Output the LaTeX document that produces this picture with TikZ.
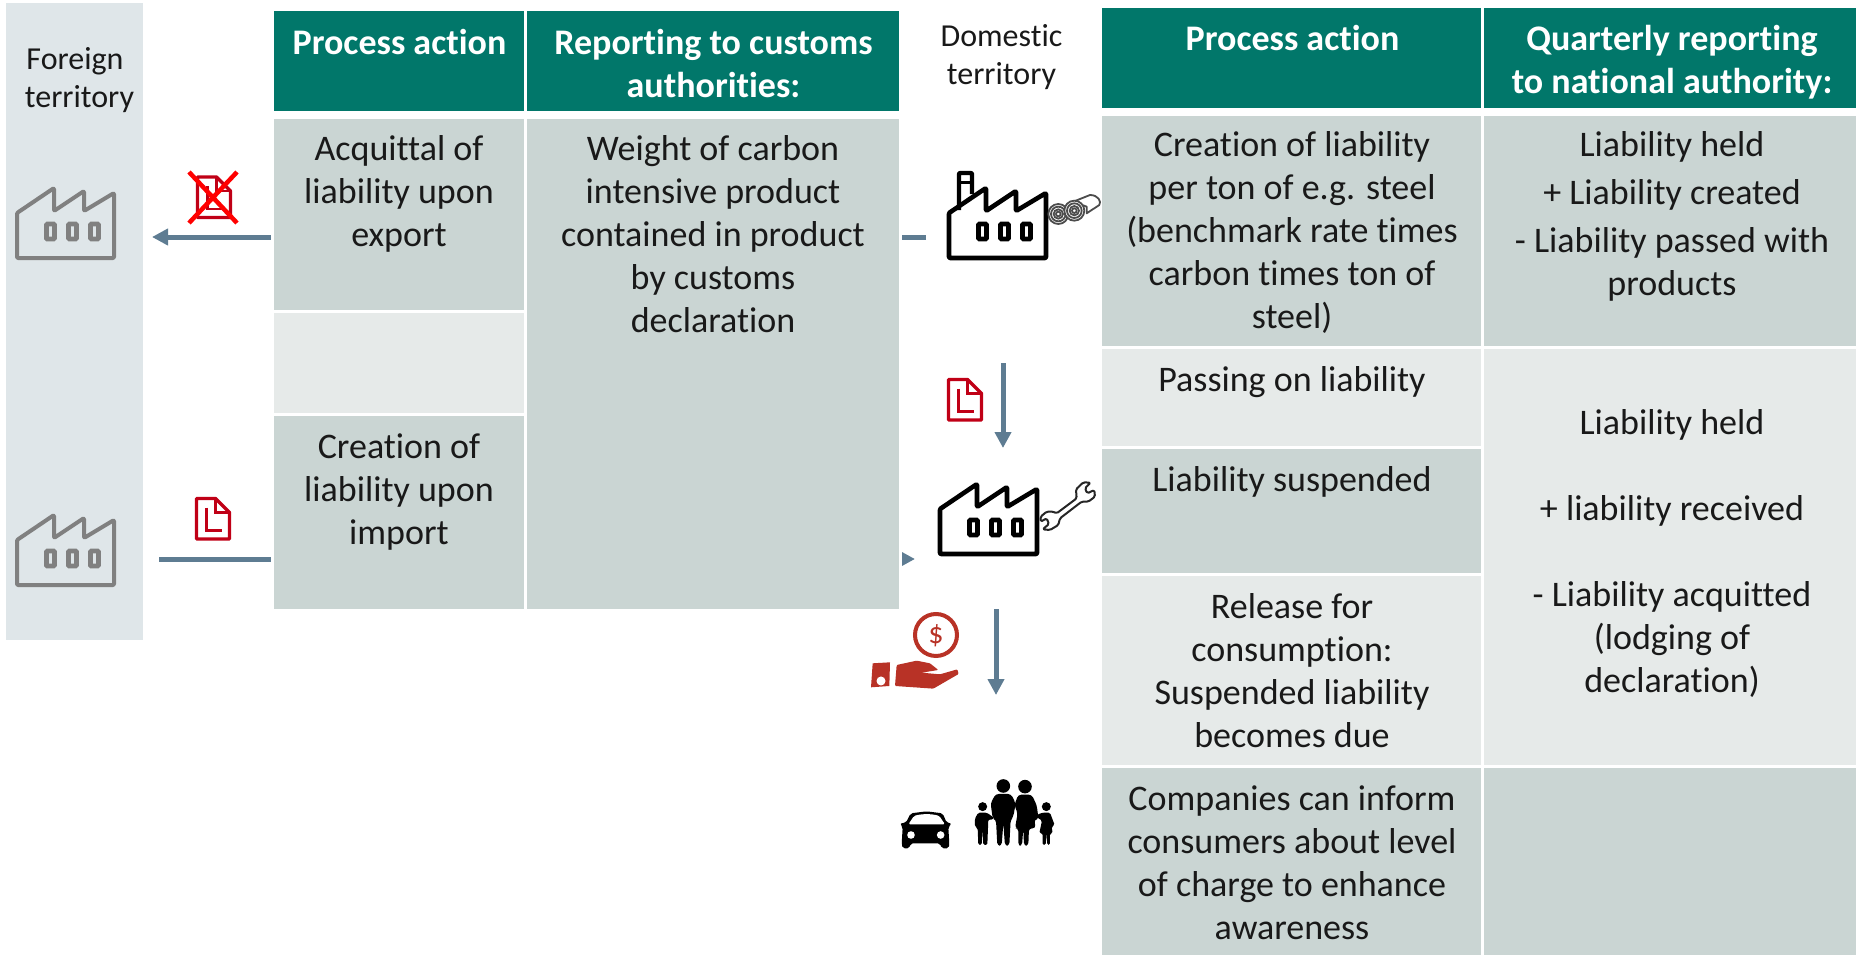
\documentclass[tikz,border=0pt]{standalone}
\usepackage{fontspec}
\setmainfont{Carlito}[Ligatures=NoCommon]
\usetikzlibrary{arrows.meta}
\definecolor{headcol}{RGB}{1,119,106}
\definecolor{darkc}{RGB}{202,213,211}
\definecolor{lightc}{RGB}{230,234,233}
\definecolor{panelc}{RGB}{223,230,233}
\definecolor{arrowc}{RGB}{94,124,146}
\definecolor{docred}{RGB}{192,0,22}
\definecolor{handred}{RGB}{184,50,38}
\definecolor{grayf}{RGB}{128,128,128}
\tikzset{
  x=1pt,y=-1pt,
  tcell/.style={rectangle,draw=white,line width=2.7pt,inner sep=0pt},
  headcell/.style={tcell,fill=headcol},
  darkcell/.style={tcell,fill=darkc},
  lightcell/.style={tcell,fill=lightc},
  body/.style={anchor=north,align=center,inner sep=0pt,font=\fontsize{36}{43}\selectfont,text=black!90},
  headtxt/.style={anchor=north,align=center,inner sep=0pt,font=\fontsize{36}{43}\selectfont\bfseries,text=white},
  terr/.style={anchor=north,align=center,inner sep=0pt,font=\fontsize{32}{38}\selectfont,text=black!90},
  flow/.style={draw=arrowc,line width=5pt,-{Triangle[length=16pt,width=16pt]}},
  factory/.pic={
    \draw[line width=#1pt,line join=round,rounded corners=1pt] (0,0) -- (0,-45) -- (37,-70) -- (37,-47) -- (67,-67) -- (67,-47) -- (97,-65) -- (97,0) -- cycle;
    \foreach \wx in {27,49,71}{\draw[line width=4.8pt,rounded corners=1pt] (\wx+2.4,-34) rectangle (\wx+10.4,-19);}
  },
  docicon/.pic={
    \draw[docred,line width=3.4pt,line join=round] (0,0) -- (19,0) -- (33,14) -- (33,40.5) -- (0,40.5) -- cycle;
    \draw[docred,line width=2.8pt] (19,0) -- (19,14) -- (33,14);
    \draw[docred,line width=2.8pt] (10,9) -- (10,32) -- (25,32);
  },
}
\begin{document}
\begin{tikzpicture}
\useasboundingbox (0,0) rectangle (1856,954);
% foreign territory panel
\node[rectangle,fill=panelc,inner sep=0pt,minimum width=137pt,minimum height=637pt] (panel) at (74.5,321.5) {};
% connector anchors (the lines run behind the tables)
\coordinate (expStart) at (926,237);
\coordinate (expEnd) at (152,237);
\coordinate (impStart) at (159,559);
\coordinate (impEnd) at (915,559);
\coordinate (passStart) at (1003,363);
\coordinate (passEnd) at (1003,448);
\coordinate (relStart) at (996,609);
\coordinate (relEnd) at (996,695);
\draw[flow] (expStart) -- (expEnd);
\draw[flow] (impStart) -- (impEnd);
\draw[flow] (passStart) -- (passEnd);
\draw[flow] (relStart) -- (relEnd);
% left table
\node[headcell,minimum width=253.1pt,minimum height=103pt] (lh1) at (399.05,61.3) {};
\node[headcell,minimum width=375.2pt,minimum height=103pt] (lh2) at (713.2,61.3) {};
\node[darkcell,minimum width=253.1pt,minimum height=193.5pt] (l1) at (399.05,214.55) {};
\node[lightcell,minimum width=253.1pt,minimum height=103pt] (l2) at (399.05,362.8) {};
\node[darkcell,minimum width=253.1pt,minimum height=196.2pt] (l3) at (399.05,512.4) {};
\node[darkcell,minimum width=375.2pt,minimum height=492.7pt] (l4) at (713.2,364.15) {};
% right table
\node[headcell,minimum width=381.7pt,minimum height=103pt] (rh1) at (1291.65,58) {};
\node[headcell,minimum width=375pt,minimum height=103pt] (rh2) at (1670,58) {};
\node[darkcell,minimum width=381.7pt,minimum height=232.8pt] (r1) at (1291.65,230.9) {};
\node[lightcell,minimum width=381.7pt,minimum height=100.2pt] (r2) at (1291.65,397.4) {};
\node[darkcell,minimum width=381.7pt,minimum height=127pt] (r3) at (1291.65,511) {};
\node[lightcell,minimum width=381.7pt,minimum height=192pt] (r4) at (1291.65,670.5) {};
\node[darkcell,minimum width=381.7pt,minimum height=189.5pt] (r5) at (1291.65,861.25) {};
\node[darkcell,minimum width=375pt,minimum height=232.8pt] (r6) at (1670,230.9) {};
\node[lightcell,minimum width=375pt,minimum height=419.2pt] (r7) at (1670,556.9) {};
\node[darkcell,minimum width=375pt,minimum height=189.5pt] (r8) at (1670,861.25) {};
% territory labels
\node[terr] (tf) at (79.5,47) {Foreign\rule{9pt}{0pt}\\territory};
\node[terr] (td) at (1001.5,24) {Domestic\\territory};
% header text
\node[headtxt] (hl1) at (399.5,29) {Process action};
\node[headtxt] (hl2) at (713.5,29) {Reporting to customs\\authorities:};
\node[headtxt] (hr1) at (1292.5,25) {Process action};
\node[headtxt] (hr2) at (1672,25) {Quarterly reporting\\to national authority:};
% body text, left
\node[body] (tl1) at (399,135) {Acquittal of\\liability upon\\export};
\node[body] (tl3) at (399,434) {Creation of\\liability upon\\import};
\node[body] (tl4) at (713,135) {Weight of carbon\\intensive product\\contained in product\\by customs\\declaration};
% body text, right
\node[body] (tr1) at (1292,131) {Creation of liability\\per ton of e.g. steel\\(benchmark rate times\\carbon times ton of\\steel)};
\node[body] (tr2) at (1292,366.5) {Passing on liability};
\node[body] (tr3) at (1292,466) {Liability suspended};
\node[body] (tr4) at (1292,593.5) {Release for\\consumption:\\Suspended liability\\becomes due};
\node[body] (tr5) at (1292,785.5) {Companies can inform\\consumers about level\\of charge to enhance\\awareness};
\node[body] (tr6) at (1672,131) {Liability held\\[5pt]+ Liability created\\[5pt]- Liability passed with\\products};
\node[body] (tr7) at (1672,409.5) {Liability held\\[43pt]+ liability received\\[43pt]- Liability acquitted\\(lodging of\\declaration)};
% factories
\pic[draw=grayf] at (17,258) {factory=4};
\pic[draw=grayf] at (17,585) {factory=4};
\pic[draw=black] at (949,258) {factory=4.6};
\pic[draw=black] at (940,554) {factory=4.6};
% chimney
\draw[black,line width=4.4pt,line join=round,rounded corners=1pt] (959,210) -- (959,173) -- (972,173) -- (972,194);
\draw[black,line width=3pt] (959,182) -- (972,182);
% documents
\pic at (197.5,177) {docicon};
\pic at (196.5,498.5) {docicon};
\pic at (948.5,379.5) {docicon};
\draw[red,line width=4.5pt] (189,172) -- (237,223) (237,172) -- (189,223);
% steel coils, wrench, hand, car and family drawn in 3x zoom coordinates
\begin{scope}[shift={(890,150)},x=0.3333pt,y=-0.3333pt]
  \draw[black!70,line width=1.8pt,line join=round,fill=white] (550,155) -- (600,135) .. controls (625,135) and (635,155) .. (628,165) -- (590,190) -- (590,170) -- cycle;
  \foreach \r in {30,22,14,7}{\draw[black!70,line width=1.8pt,fill=white] (505,192) circle[radius=\r*0.3333pt];}
  \foreach \r in {30,22,14,7}{\draw[black!70,line width=1.8pt,fill=white] (553,182) circle[radius=\r*0.3333pt];}
\end{scope}
\begin{scope}[shift={(890,770)},x=0.3333pt,y=-0.3333pt]
  % car
  \fill[black,rounded corners=2pt] (30,160) -- (48,158) -- (62,130) -- (110,124) -- (158,130) -- (170,158) -- (185,160) -- (175,172) -- (178,222) -- (176,235) -- (155,235) -- (150,220) -- (62,220) -- (58,235) -- (38,235) -- (35,222) -- (38,172) -- cycle;
  \fill[white,rounded corners=1.5pt] (55,163) -- (72,138) .. controls (95,131) and (125,131) .. (148,138) -- (165,163) -- cycle;
  \fill[white] (63,195) circle[radius=3.8pt] (152,195) circle[radius=3.8pt];
\end{scope}
\begin{scope}[shift={(850,450)},x=0.3333pt,y=-0.3333pt]
  % wrench
  \draw[black!85,line width=2pt,fill=white,rounded corners=1.5pt,line join=round]
   (620,190) -- (680,145) -- (678,118) -- (700,97) -- (722,98) -- (705,115) -- (712,130) -- (733,120) -- (735,140) -- (715,155) -- (695,155) -- (630,205) -- (625,225) -- (600,240) -- (578,238) -- (597,222) -- (590,205) -- (572,215) -- (572,200) -- (590,185) -- (610,185) -- cycle;
  % hand with coin
  \draw[handred,line width=4pt] (258,555) circle[radius=21pt];
  \node[text=handred,inner sep=0pt,font=\fontsize{30}{30}\selectfont] (dollar) at (258,557) {\$};
  \fill[handred] (68,640) -- (120,637) -- (118,708) -- (63,712) -- cycle;
  \fill[white] (93,693) circle[radius=4.5pt];
  \fill[handred,rounded corners=1pt] (140,645) -- (200,632) -- (240,640) -- (265,660) -- (215,668) -- (270,673) -- (322,658) -- (326,672) -- (250,716) -- (135,708) -- cycle;
  % family
  \fill[black] (460,1008) circle[radius=6.8pt] (525,1010) circle[radius=6.8pt] (398,1070) circle[radius=4.5pt] (589,1070) circle[radius=4.5pt];
  \fill[black,rounded corners=3pt] (437,1032) -- (483,1032) -- (497,1060) -- (490,1100) -- (482,1110) -- (478,1187) -- (465,1187) -- (460,1120) -- (455,1187) -- (442,1187) -- (438,1110) -- (428,1105) -- (422,1060) -- cycle;
  \fill[black,rounded corners=3pt] (505,1034) -- (545,1034) -- (560,1065) -- (566,1108) -- (553,1108) -- (557,1135) -- (537,1135) -- (535,1187) -- (522,1187) -- (520,1135) -- (516,1187) -- (505,1187) -- (505,1135) -- (495,1135) -- (503,1090) -- (493,1065) -- cycle;
  \fill[black,rounded corners=1.5pt] (385,1088) -- (410,1088) -- (432,1103) -- (428,1110) -- (415,1108) -- (412,1185) -- (400,1185) -- (397,1140) -- (395,1185) -- (385,1185) -- (383,1135) -- (375,1130) -- (375,1105) -- cycle;
  \fill[black,rounded corners=1.5pt] (578,1088) -- (600,1088) -- (614,1125) -- (605,1130) -- (608,1150) -- (600,1150) -- (600,1185) -- (592,1185) -- (590,1150) -- (587,1185) -- (578,1185) -- (578,1150) -- (568,1150) -- (576,1112) -- (558,1100) -- (562,1094) -- cycle;
\end{scope}
\end{tikzpicture}
\end{document}
